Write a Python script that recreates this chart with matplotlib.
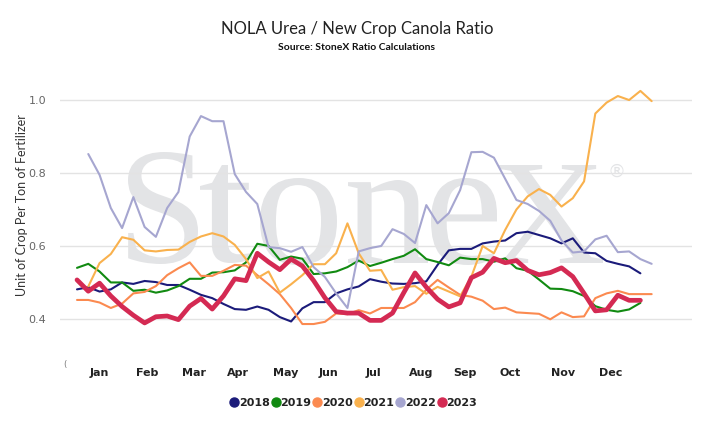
import matplotlib
matplotlib.use("Agg")
import matplotlib.pyplot as plt
from matplotlib.lines import Line2D
from matplotlib.textpath import TextPath
from matplotlib.patches import PathPatch
from matplotlib.font_manager import FontProperties
from matplotlib.transforms import Affine2D

# weekly ratio values (week index on x)
y2018 = [0.481, 0.487, 0.475, 0.481, 0.50, 0.496, 0.504, 0.501, 0.493, 0.493,
         0.48, 0.466, 0.457, 0.441, 0.427, 0.425, 0.434, 0.425, 0.405, 0.393,
         0.429, 0.446, 0.446, 0.47, 0.481, 0.489, 0.509, 0.502, 0.497, 0.496,
         0.498, 0.503, 0.548, 0.588, 0.592, 0.592, 0.607, 0.612, 0.615, 0.635,
         0.639, 0.63, 0.621, 0.607, 0.621, 0.582, 0.58, 0.559, 0.551, 0.544, 0.525]
y2019 = [0.54, 0.551, 0.53, 0.50, 0.50, 0.477, 0.48, 0.472, 0.478, 0.49,
         0.51, 0.51, 0.527, 0.528, 0.533, 0.555, 0.606, 0.60, 0.562, 0.571,
         0.565, 0.523, 0.525, 0.53, 0.542, 0.56, 0.545, 0.554, 0.564, 0.573,
         0.591, 0.564, 0.556, 0.547, 0.568, 0.564, 0.564, 0.557, 0.566, 0.539,
         0.532, 0.508, 0.483, 0.482, 0.476, 0.463, 0.435, 0.425, 0.42, 0.426, 0.444]
y2020 = [0.452, 0.452, 0.445, 0.43, 0.442, 0.47, 0.474, 0.49, 0.52, 0.539,
         0.555, 0.518, 0.518, 0.532, 0.548, 0.546, 0.52, 0.495, 0.468, 0.43,
         0.386, 0.386, 0.392, 0.415, 0.413, 0.424, 0.415, 0.43, 0.43, 0.43,
         0.446, 0.48, 0.507, 0.486, 0.466, 0.461, 0.45, 0.427, 0.431, 0.418,
         0.416, 0.414, 0.399, 0.418, 0.405, 0.407, 0.457, 0.47, 0.477, 0.468,
         0.468, 0.468]
# 2021 and 2022 start one week later
y2021 = [0.489, 0.553, 0.578, 0.624, 0.617, 0.588, 0.585, 0.589, 0.59, 0.611,
         0.626, 0.635, 0.626, 0.603, 0.564, 0.512, 0.53, 0.472, 0.495, 0.52,
         0.55, 0.55, 0.58, 0.662, 0.58, 0.532, 0.534, 0.48, 0.487, 0.49,
         0.469, 0.488, 0.475, 0.462, 0.516, 0.60, 0.58, 0.644, 0.70, 0.736,
         0.756, 0.74, 0.708, 0.731, 0.777, 0.963, 0.993, 1.011, 1.0, 1.025, 0.997]
y2022 = [0.852, 0.795, 0.704, 0.649, 0.734, 0.652, 0.625, 0.704, 0.748, 0.90,
         0.956, 0.942, 0.942, 0.797, 0.748, 0.715, 0.597, 0.594, 0.584, 0.597,
         0.542, 0.515, 0.47, 0.43, 0.585, 0.594, 0.60, 0.646, 0.633, 0.608,
         0.712, 0.662, 0.69, 0.753, 0.857, 0.858, 0.842, 0.784, 0.726, 0.715,
         0.696, 0.669, 0.615, 0.582, 0.585, 0.618, 0.628, 0.583, 0.585, 0.564, 0.551]
y2023 = [0.507, 0.476, 0.498, 0.463, 0.434, 0.41, 0.389, 0.406, 0.408, 0.398,
         0.435, 0.456, 0.427, 0.463, 0.51, 0.505, 0.58, 0.556, 0.535, 0.564,
         0.545, 0.505, 0.458, 0.42, 0.416, 0.416, 0.396, 0.396, 0.416, 0.472,
         0.526, 0.487, 0.454, 0.433, 0.444, 0.513, 0.528, 0.566, 0.554, 0.56,
         0.533, 0.521, 0.527, 0.54, 0.516, 0.47, 0.422, 0.425, 0.465, 0.451, 0.451]

series = [
    ("2018", 0, y2018, "#1b1b7a", 1.5),
    ("2019", 0, y2019, "#118a11", 1.5),
    ("2020", 0, y2020, "#fb8a50", 1.5),
    ("2021", 1, y2021, "#f9b14d", 1.5),
    ("2022", 1, y2022, "#a6a6d0", 1.5),
    ("2023", 0, y2023, "#d42a53", 3.4),
]

months = ["Jan", "Feb", "Mar", "Apr", "May", "Jun",
          "Jul", "Aug", "Sep", "Oct", "Nov", "Dec"]
month_pos = [1.95, 6.24, 10.38, 14.31, 18.52, 22.36,
             26.29, 30.52, 34.45, 38.48, 43.15, 47.36]
yticks = [0.4, 0.6, 0.8, 1.0]

W, H = 716, 421
fig = plt.figure(figsize=(W / 100, H / 100), dpi=100)
ax = fig.add_axes([60 / W, 1 - 360 / H, 632 / W, 272 / H])

# watermark, glyph by glyph: (char, left, right, top, bottom) in pixels
serif = FontProperties(family="Liberation Serif")
wm_glyphs = [("S", 128, 198, 152, 264), ("t", 200, 252, 165, 263),
             ("o", 260, 337, 178, 265), ("n", 348, 428, 180, 263),
             ("e", 431, 497, 178, 265), ("X", 494, 603, 165, 263)]
for ch, x0, x1, yt, yb in wm_glyphs:
    p = TextPath((0, 0), ch, size=1, prop=serif)
    e = p.get_extents()
    tr = (Affine2D().translate(-e.x0, -e.y0)
          .scale((x1 - x0) / e.width, (yb - yt) / e.height)
          .translate(x0, H - yb).scale(1 / W, 1 / H) + fig.transFigure)
    ax.add_patch(PathPatch(p, transform=tr, fc="#e3e4e6", ec="none", zorder=0))
fig.text(617 / W, 1 - 172 / H, "\u00ae", fontsize=13, color="#e3e4e6",
         ha="center", va="center", zorder=0)

for name, start, vals, col, lw in series:
    xs = list(range(start, start + len(vals)))
    ax.plot(xs, vals, color=col, lw=lw, label=name, zorder=3,
            solid_joinstyle="round", solid_capstyle="round")

ax.set_xlim(-1.51, 54.58)
ax.set_ylim(0.2874, 1.033)
ax.set_yticks(yticks)
ax.set_yticklabels([f"{v:.1f}" for v in yticks])
ax.set_xticks(month_pos)
ax.set_xticklabels(months, fontweight="bold")
ax.tick_params(axis="y", length=0, pad=10, labelsize=8, labelcolor="#666666")
ax.tick_params(axis="x", length=0, pad=6, labelsize=8, labelcolor="#222222")
ax.grid(axis="y", color="#e3e3e3", lw=1)
ax.set_axisbelow(True)
for s in ax.spines.values():
    s.set_visible(False)

fig.text(65 / W, 1 - 365 / H, "(", fontsize=6, color="#777777", ha="center", va="center")
fig.text(22 / W, 1 - 205 / H, "Unit of Crop Per Ton of Fertilizer", rotation=90,
         fontsize=9, family="Lato", color="#333333", ha="center", va="center")
fig.text(357 / W, 1 - 29 / H, "NOLA Urea / New Crop Canola Ratio",
         fontsize=12, family="Lato", color="#222222", ha="center", va="center")
fig.text(357 / W, 1 - 47 / H, "Source: StoneX Ratio Calculations",
         fontsize=7.5, family="Lato", fontweight="bold", color="#111111",
         ha="center", va="center")

handles = [Line2D([], [], ls="none", marker="o", ms=6.5, color=c) for _, _, _, c, _ in series]
fig.legend(handles, [s[0] for s in series], loc="center", bbox_to_anchor=(354 / W, 1 - 403 / H),
           ncol=6, frameon=False, handlelength=0.6, handletextpad=0.1, columnspacing=0.25,
           prop={"size": 8, "weight": "bold"}, labelcolor="#222222")

fig.savefig("out.png", dpi=100)
